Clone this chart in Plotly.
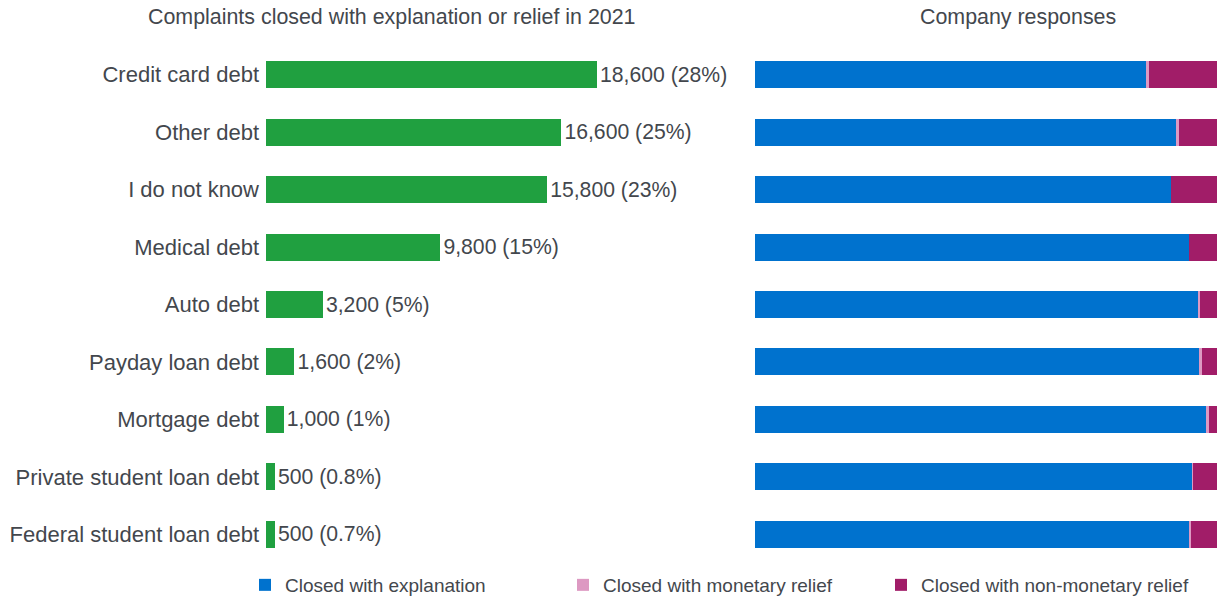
import plotly.graph_objects as go

categories = ["Credit card debt", "Other debt", "I do not know", "Medical debt", "Auto debt",
              "Payday loan debt", "Mortgage debt", "Private student loan debt", "Federal student loan debt"]
complaints = [18600, 16600, 15800, 9800, 3200, 1600, 1000, 500, 500]
pct_labels = ["28%", "25%", "23%", "15%", "5%", "2%", "1%", "0.8%", "0.7%"]

explanation = [84.8, 91.1, 90.0, 93.9, 95.9, 96.3, 97.8, 94.6, 94.0]
monetary = [0.4, 0.6, 0.0, 0.0, 0.4, 0.4, 0.4, 0.2, 0.4]
non_monetary = [14.8, 8.3, 10.0, 6.1, 3.7, 3.3, 1.8, 5.2, 5.6]

TXT = "#43474d"
FONT = "Liberation Sans, Arial, sans-serif"

fig = go.Figure()
fig.add_trace(go.Bar(
    y=categories, x=complaints, orientation="h", marker=dict(color="#20a040", line_width=0),
    customdata=pct_labels,
    texttemplate="%{x:,} (%{customdata})", textposition="outside",
    textfont=dict(size=21.2, color=TXT, family=FONT), cliponaxis=False,
    width=0.47, showlegend=False, xaxis="x", yaxis="y", hoverinfo="skip"))

for name, vals, col in [("Closed with explanation", explanation, "#0072ce"),
                        ("Closed with monetary relief", monetary, "#dd99c2"),
                        ("Closed with non-monetary relief", non_monetary, "#a11d68")]:
    fig.add_trace(go.Bar(
        y=categories, x=vals, orientation="h", name=name,
        marker=dict(color=col, line_width=0), width=0.47,
        xaxis="x2", yaxis="y2"))

L = 266
PW = 1217 - L
dom_split = (755 - L) / PW
fig.update_layout(
    width=1217, height=596, barmode="stack",
    margin=dict(l=L, r=0, t=46, b=33),
    paper_bgcolor="white", plot_bgcolor="white",
    font=dict(family=FONT, color=TXT, size=21),
    xaxis=dict(domain=[0, 0.5], range=[0, 18600 * (0.5 * PW) / 331], visible=False),
    yaxis=dict(categoryorder="array", categoryarray=categories, autorange="reversed",
               showline=False, showgrid=False, ticks="", ticklabelstandoff=6,
               tickfont=dict(size=22, color=TXT), automargin=False),
    xaxis2=dict(domain=[dom_split, 1], range=[0, 100], visible=False),
    yaxis2=dict(anchor="x2", categoryorder="array", categoryarray=categories,
                autorange="reversed", showticklabels=False, showgrid=False, ticks=""),
    legend=dict(orientation="h", xref="container", x=245 / 1217, xanchor="left",
                yref="container", y=11 / 596, yanchor="middle",
                entrywidth=273, entrywidthmode="pixels",
                font=dict(size=19, color=TXT), traceorder="normal"),
    annotations=[
        dict(text="Complaints closed with explanation or relief in 2021",
             x=(392 - L) / PW, xref="paper", xanchor="center",
             y=1, yref="paper", yanchor="bottom", yshift=15, showarrow=False,
             font=dict(size=21.4, color=TXT)),
        dict(text="Company responses",
             x=(1018 - L) / PW, xref="paper", xanchor="center",
             y=1, yref="paper", yanchor="bottom", yshift=15, showarrow=False,
             font=dict(size=21.4, color=TXT)),
    ],
)

fig.write_html("out.html", config={"displayModeBar": False},
               post_script="document.body.style.margin='0';")
